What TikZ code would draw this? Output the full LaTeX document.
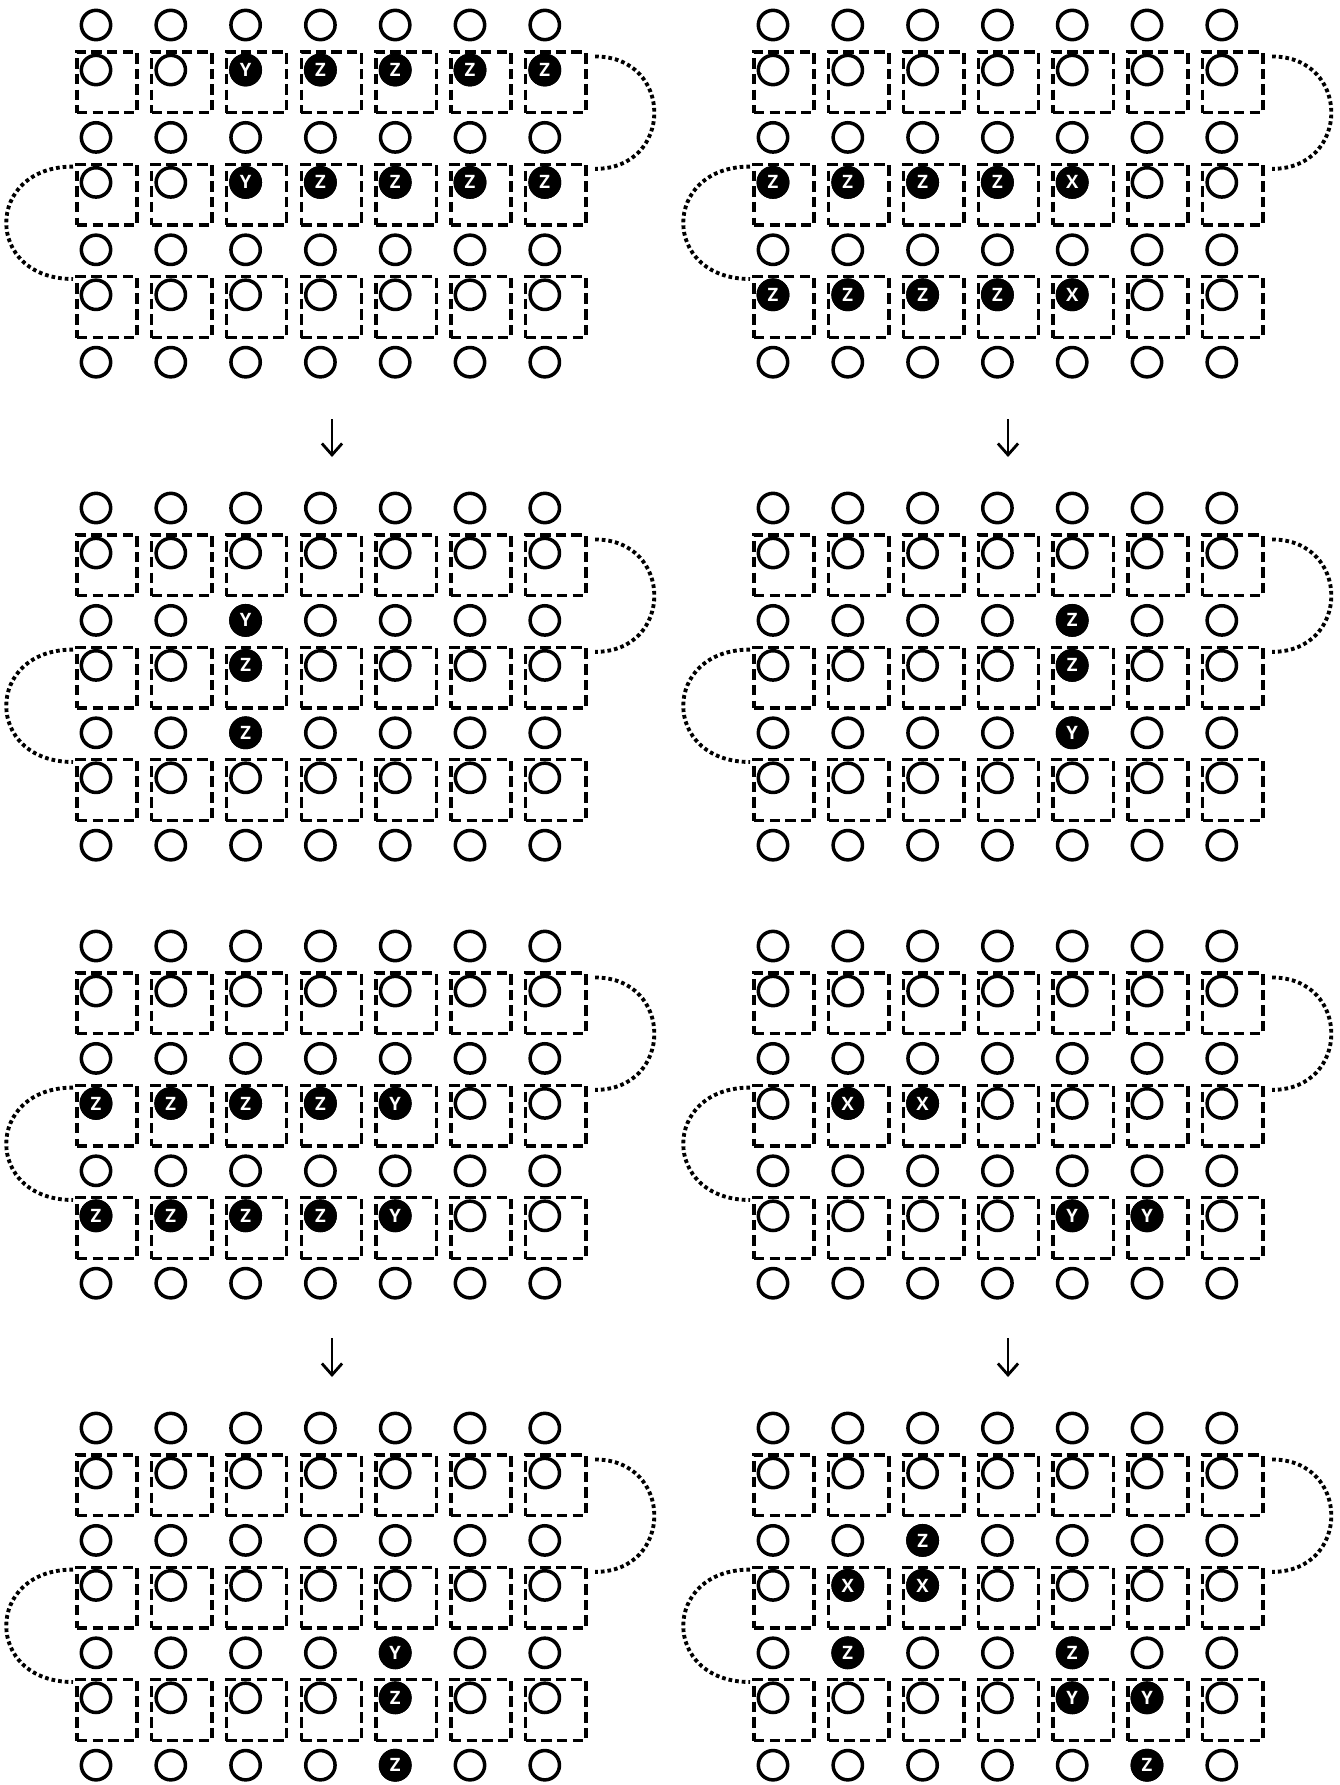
\documentclass[tikz,border=0pt]{standalone}
\usepackage{fontspec}
\setsansfont{Open Sans}
\usetikzlibrary{arrows.meta}

\begin{document}
\begin{tikzpicture}[
    x=0.02cm, y=-0.02cm,
    site/.style={
        circle,
        draw,
        line width=2pt,
        fill=white,
        minimum size=16.7pt,
        inner sep=0pt
    },
    hit/.style={site, fill=black, text=white, font=\sffamily\bfseries\fontsize{10.5}{10.5}\selectfont},
    cell/.style={
        draw,
        dash pattern=on 6pt off 2.9pt,
        line width=2pt,
        minimum width=34.3pt,
        minimum height=34.6pt,
        inner sep=0pt
    },
    link/.style={line width=2.2pt, dash pattern=on 2.1pt off 1.7pt},
    arrow/.style={-{Straight Barb[length=6.5pt,width=11.5pt]}, line width=1.6pt}
]
\useasboundingbox (0,0) rectangle (1339,1785);

% eight panels of boxes and sites
\foreach \p/\ox/\oy in {1/96/25, 2/773/25, 3/96/508, 4/773/508,
                        5/96/946, 6/773/946, 7/96/1428, 8/773/1428} {
  \foreach \c in {1,...,7} {
    \foreach \r/\dy in {1/45, 3/157.4, 5/269.8}
      \node[cell] (b\p-\r-\c) at ({\ox+(\c-1)*74.8+11},{\oy+\dy+12.3}) {};
    \foreach \r/\dy in {0/0, 1/45, 2/112.4, 3/157.4, 4/224.8, 5/269.8, 6/337.2}
      \node[site] (s\p-\r-\c) at ({\ox+(\c-1)*74.8},{\oy+\dy}) {};
  }
  \draw[link] ([xshift=4.2pt,yshift=-3.6pt]b\p-1-7.north east)
      .. controls +(79,0) and +(79,0) .. ([xshift=4.2pt,yshift=-3.6pt]b\p-3-7.north east);
  \draw[link] ([xshift=-1.2pt,yshift=-2.3pt]b\p-3-1.north west)
      .. controls +(-89,0) and +(-89,0) .. ([xshift=-1.2pt,yshift=-2.3pt]b\p-5-1.north west);
}

% filled sites
\foreach \p/\r/\c/\m in {1/1/3/Y, 1/1/4/Z, 1/1/5/Z, 1/1/6/Z, 1/1/7/Z,
                         1/3/3/Y, 1/3/4/Z, 1/3/5/Z, 1/3/6/Z, 1/3/7/Z,
                         2/3/1/Z, 2/3/2/Z, 2/3/3/Z, 2/3/4/Z, 2/3/5/X,
                         2/5/1/Z, 2/5/2/Z, 2/5/3/Z, 2/5/4/Z, 2/5/5/X,
                         3/2/3/Y, 3/3/3/Z, 3/4/3/Z,
                         4/2/5/Z, 4/3/5/Z, 4/4/5/Y,
                         5/3/1/Z, 5/3/2/Z, 5/3/3/Z, 5/3/4/Z, 5/3/5/Y,
                         5/5/1/Z, 5/5/2/Z, 5/5/3/Z, 5/5/4/Z, 5/5/5/Y,
                         6/3/2/X, 6/3/3/X, 6/5/5/Y, 6/5/6/Y,
                         7/4/5/Y, 7/5/5/Z, 7/6/5/Z,
                         8/2/3/Z, 8/3/2/X, 8/3/3/X, 8/4/2/Z, 8/4/5/Z,
                         8/5/5/Y, 8/5/6/Y, 8/6/6/Z}
  \node[hit] (h\p-\r-\c) at (s\p-\r-\c) {\m};

% steps
\coordinate (u1) at (332,419);
\coordinate (v1) at (332,457);
\coordinate (u2) at (1008,419);
\coordinate (v2) at (1008,457);
\coordinate (u3) at (332,1338);
\coordinate (v3) at (332,1377);
\coordinate (u4) at (1008,1338);
\coordinate (v4) at (1008,1377);

\draw[arrow] (u1) -- (v1);
\draw[arrow] (u2) -- (v2);
\draw[arrow] (u3) -- (v3);
\draw[arrow] (u4) -- (v4);

\end{tikzpicture}
\end{document}
